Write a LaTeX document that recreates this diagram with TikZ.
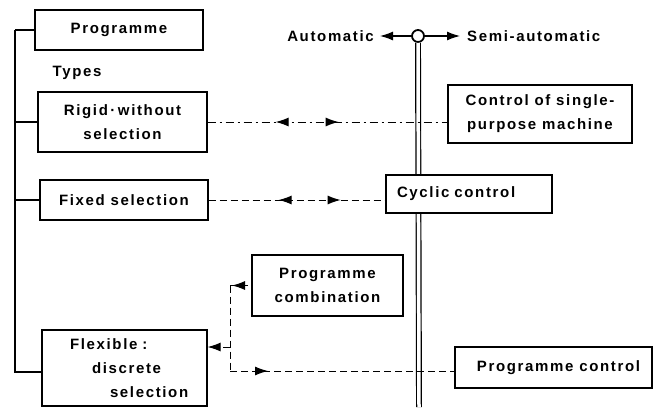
\documentclass[tikz,border=0pt]{standalone}
\usepackage{fontspec}
\setmainfont{Liberation Sans}[LetterSpace=11]
\usetikzlibrary{arrows.meta,decorations.markings}
\begin{document}
\begin{tikzpicture}[x=1pt,y=-1pt,
  txt/.style={font=\fontsize{15pt}{24pt}\selectfont\bfseries},
  box/.style={txt, draw, line width=1.2pt, fill=white, inner sep=0pt, align=center},
  lbl/.style={txt, inner sep=0pt},
  conn/.style={line width=1pt},
  dsh/.style={conn, dash pattern=on 7pt off 4pt},
  dshdot/.style={conn, dash pattern=on 8pt off 4pt on 2pt off 4pt},
  tipL/.style={-{Latex[length=13pt,width=9pt]}},
  twoarrows/.style 2 args={postaction={decorate, decoration={markings,
      mark=at position #1 with {\arrowreversed{Latex[length=13pt,width=9pt]}},
      mark=at position #2 with {\arrow{Latex[length=13pt,width=9pt]}}}}},
  revarrow/.style={postaction={decorate, decoration={markings,
      mark=at position #1 with {\arrowreversed{Latex[length=13pt,width=9pt]}}}}},
  fwdarrow/.style={postaction={decorate, decoration={markings,
      mark=at position #1 with {\arrow{Latex[length=13pt,width=9pt]}}}}}
]
\useasboundingbox (0,0) rectangle (663,407);

% switch and double bus line
\node[circle, draw, line width=1.8pt, minimum size=12pt, inner sep=0pt, fill=white] (sw) at (418,36) {};
\coordinate (bot) at (419,407);
\draw[double, double distance=3.5pt, line width=1.2pt] (sw.south) -- (bot);
\node[lbl, anchor=east] (auto) at (374,36) {Automatic};
\node[lbl, anchor=west] (semi) at (467,36) {Semi-automatic};
\draw[conn, line width=1.2pt, tipL] (sw.west) -- ([xshift=6pt]auto.east);
\draw[conn, line width=1.2pt, tipL] (sw.east) -- ([xshift=-7pt]semi.west);

% left column
\node[box, minimum width=168pt, minimum height=40pt] (prog) at (119,30) {Programme};
\node[lbl] (types) at (77,73) {Types};
\node[box, minimum width=169pt, minimum height=60pt] (rigid) at (122.5,122) {Rigid\,·\,without\\selection};
\node[box, minimum width=168pt, minimum height=40pt] (fixed) at (124,200) {Fixed selection};
\node[box, minimum width=165pt, minimum height=76pt, text width=135pt, align=left] (flex) at (124.5,368)
  {\hspace*{13pt}Flexible :\\\hspace*{35pt}discrete\\\hspace*{53pt}selection};
\node[box, minimum width=151pt, minimum height=61pt] (comb) at (327.5,285.5) {Programme\\combination};

% right column
\node[box, minimum width=184pt, minimum height=58pt] (single) at (540,114) {Control of single-\\purpose machine};
\node[box, minimum width=166pt, minimum height=38pt, text width=144pt, align=left] (cyc) at (469,194) {Cyclic control};
\node[box, minimum width=197pt, minimum height=41pt] (pc) at (553.5,367.5) {\hspace*{10pt}Programme control};

% left bracket
\coordinate (lt) at (15,30);
\coordinate (lb) at (15,372);
\draw[line width=1.2pt] (lt) -- (prog.west);
\draw[line width=1.2pt] (lt) -- (lb) -- (lb -| flex.west);
\draw[line width=1.2pt] (lt |- rigid.west) -- (rigid.west);
\draw[line width=1.2pt] (lt |- fixed.west) -- (fixed.west);

% connectors
\draw[dshdot, twoarrows={68pt}{131pt}] (rigid.east) -- (rigid.east -| single.west);
\draw[dsh, twoarrows={70pt}{132pt}] (fixed.east) -- (fixed.east -| cyc.west);

\coordinate (fj) at (230,347);
\coordinate (ft) at (230,285.5);
\coordinate (fb) at (230,371);
\draw[dsh, tipL] (fj) -- (fj -| flex.east);
\draw[dsh] (ft) -- (fb);
\draw[dsh, revarrow=2pt] (ft) -- (ft -| comb.west);
\draw[dsh, fwdarrow=38pt] (fb) -- (fb -| pc.west);
\end{tikzpicture}
\end{document}
